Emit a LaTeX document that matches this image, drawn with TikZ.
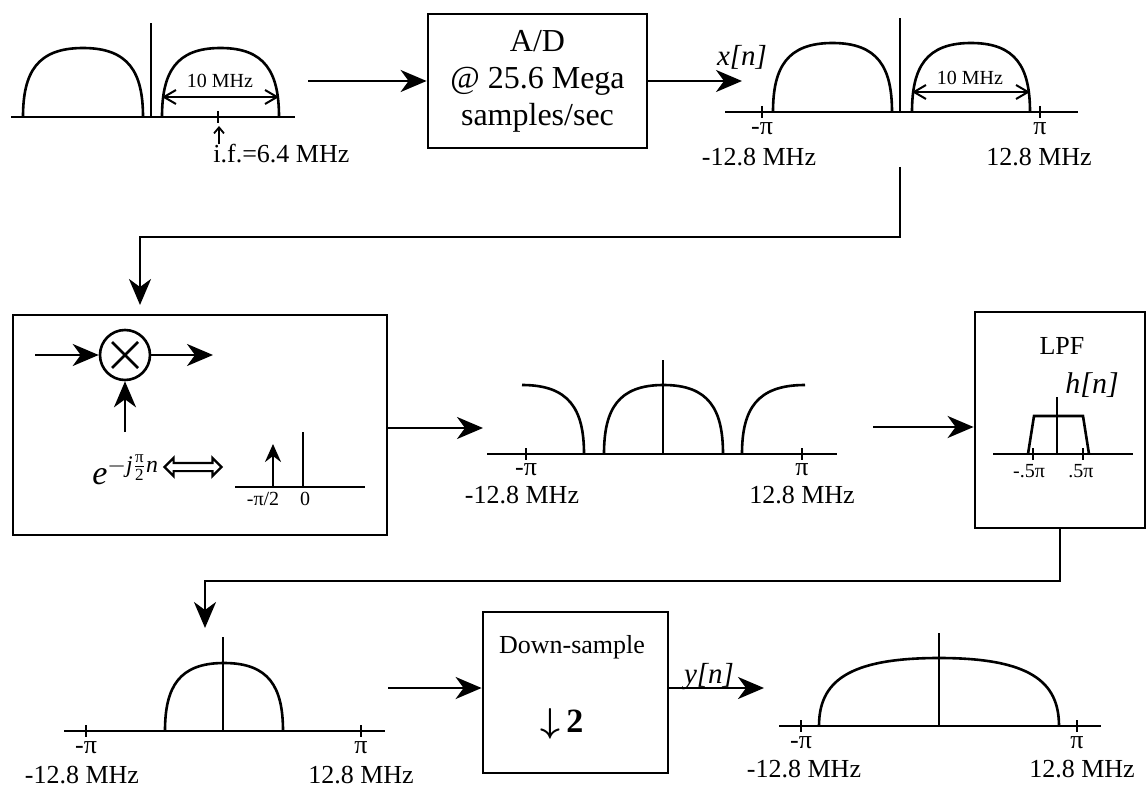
\documentclass[tikz,border=0pt]{standalone}
\usepackage{amsmath}
\usepackage{fontspec}
\setmainfont{Liberation Serif}
\usetikzlibrary{arrows.meta,shapes.arrows}
\tikzset{
  box/.style={draw,line width=1.4pt,inner sep=0pt,align=center},
  wire/.style={-{Stealth[length=13pt,width=11pt,inset=4pt]},line width=1.3pt},
  spec/.style={line width=1.3pt},
  dimline/.style={{Straight Barb[length=6pt,width=7pt]}-{Straight Barb[length=6pt,width=7pt]},line width=1pt},
  lbl/.style={inner sep=0pt,anchor=base,font=\fontsize{13}{15}\selectfont},
  smalllbl/.style={inner sep=0pt,anchor=base,font=\fontsize{10}{12}\selectfont},
  sig/.style={inner sep=0pt,font=\fontsize{14.5}{16}\selectfont\itshape}
}
% one band of a spectrum: left x, right x, axis y, top y
\newcommand\lobe[4]{%
  \draw[spec] (#1,#3) .. controls (#1,{#4+0.35*(#3-#4)}) and ({#1+0.12*(#2-#1)},#4) .. ({(#1+#2)/2},#4)
    .. controls ({#2-0.12*(#2-#1)},#4) and (#2,{#4+0.35*(#3-#4)}) .. (#2,#3);}

\begin{document}
\begin{tikzpicture}[x=0.5pt,y=-0.5pt]
  \useasboundingbox (0,0) rectangle (1146,786);

  % Input spectrum around the i.f.
  \draw[spec] (11,117) -- (295,117);
  \draw[spec] (151,117) -- (151,23);
  \lobe{23}{143}{117}{48}
  \lobe{162}{279}{117}{48}
  \draw[dimline] (162,97) -- (279,97);
  \node[smalllbl] (bw1) at (220,88) {10 MHz};
  \draw[spec] (218,111) -- (218,123);
  \node[lbl,anchor=base west] (if) at (213,163) {i.f.=6.4 MHz};
  \coordinate (iftip) at (219,126);
  \draw[-{Straight Barb[length=3pt,width=5pt]},line width=0.9pt] (if.north west -| iftip) -- (iftip);

  % A/D converter
  \coordinate (adin) at (308,81);
  \node[box,minimum width=109.5pt,minimum height=67pt,font=\fontsize{16}{18.5}\selectfont]
    (ad) at (537.5,81) {A/D\\@ 25.6 Mega\\samples/sec};
  \coordinate (xout) at (742,81);
  \draw[wire] (adin) -- (ad);
  \draw[wire] (ad) -- (xout);
  \node[sig] (xn) at (742,57) {x[n]};

  % Sampled spectrum
  \draw[spec] (725,112) -- (1078,112);
  \draw[spec] (900,112) -- (900,18);
  \lobe{773}{892}{112}{43}
  \lobe{912}{1030}{112}{43}
  \draw[dimline] (912,92) -- (1030,92);
  \node[smalllbl] (bw2) at (970,85) {10 MHz};
  \draw[spec] (762,106) -- (762,118);
  \draw[spec] (1040,106) -- (1040,118);
  \node[lbl] (xpl) at (762,135) {-π};
  \node[lbl] (xpr) at (1040,135) {π};
  \node[lbl] (xfl) at (759,166) {-12.8 MHz};
  \node[lbl] (xfr) at (1039,166) {12.8 MHz};

  % Mixer block
  \node[box,minimum width=187pt,minimum height=110pt] (mix) at (200,425) {};
  \coordinate (tap) at (900,167);
  \coordinate (turn1) at (140,237);
  \coordinate (mixin) at (140,305);
  \draw[wire] (tap) |- (turn1) -- (mixin);
  \node[circle,draw,line width=1.3pt,minimum size=25pt,inner sep=0pt] (mul) at (125,355) {};
  \draw[spec] (mul.center) +(-13,-13) -- +(13,13) (mul.center) +(-13,13) -- +(13,-13);
  \coordinate (mixa) at (35,355);
  \coordinate (mixb) at (213,355);
  \coordinate (mixc) at (125,432);
  \draw[wire] (mixa) -- (mul);
  \draw[wire] (mul) -- (mixb);
  \draw[wire] (mixc) -- (mul);
  \node[inner sep=0pt,anchor=west,font=\fontsize{17}{19}\selectfont] (expo) at (92,470)
    {$\textit{e}^{-\textit{j}\frac{\text{π}}{\text{2}}\textit{n}}$};
  \node[double arrow,draw,line width=1.1pt,minimum height=28.5pt,minimum width=4pt,
    double arrow head extend=2.5pt,double arrow head indent=0pt,inner sep=0pt,
    text height=3pt,text depth=0pt] (dual) at (193,467) {};
  \draw[spec] (235,487) -- (365,487);
  \coordinate (tone) at (273,487);
  \coordinate (tonetop) at (273,444);
  \draw[-{Stealth[length=9pt,width=8pt,inset=3pt]},line width=1.3pt] (tone) -- (tonetop);
  \draw[spec] (303,487) -- (303,432);
  \node[smalllbl] (tl) at (263,505) {-π/2};
  \node[smalllbl] (tz) at (305,505) {0};

  % Shifted spectrum
  \coordinate (m1) at (483,428);
  \draw[wire] (mix.east |- m1) -- (m1);
  \draw[spec] (487,454) -- (837,454);
  \draw[spec] (663,454) -- (663,360);
  \lobe{604}{723}{454}{385}
  \draw[spec] (522,385) .. controls (569,385) and (584,409) .. (584,454);
  \draw[spec] (742,454) .. controls (742,409) and (757,385) .. (805,385);
  \draw[spec] (526,448) -- (526,460);
  \draw[spec] (802,448) -- (802,460);
  \node[lbl] (spl) at (526,475) {-π};
  \node[lbl] (spr) at (802,475) {π};
  \node[lbl] (sfl) at (522,503) {-12.8 MHz};
  \node[lbl] (sfr) at (802,503) {12.8 MHz};

  % Low-pass filter
  \node[box,minimum width=85pt,minimum height=108pt] (lpf) at (1060,420) {};
  \coordinate (m2) at (873,427);
  \draw[wire] (m2) -- (m2 -| lpf.west);
  \node[lbl] (lpft) at (1062,355) {LPF};
  \node[sig,font=\fontsize{15}{17}\selectfont\itshape] (hn) at (1092,385) {h[n]};
  \draw[spec] (993,454) -- (1133,454);
  \draw[spec] (1057,454) -- (1057,397);
  \draw[spec] (1028,454) -- (1034,416) -- (1083,416) -- (1089,454);
  \draw[spec] (1033,448) -- (1033,460);
  \draw[spec] (1083,448) -- (1083,460);
  \node[smalllbl] (hl) at (1029,477) {-.5π};
  \node[smalllbl] (hr) at (1081,477) {.5π};

  % Filtered spectrum
  \coordinate (turn2) at (205,581);
  \coordinate (bin) at (205,628);
  \draw[wire] (lpf.south) |- (turn2) -- (bin);
  \draw[spec] (64,731) -- (385,731);
  \draw[spec] (223,731) -- (223,637);
  \lobe{165}{283}{731}{663}
  \draw[spec] (86,725) -- (86,737);
  \draw[spec] (361,725) -- (361,737);
  \node[lbl] (fpl) at (86,753) {-π};
  \node[lbl] (fpr) at (361,753) {π};
  \node[lbl] (ffl) at (82,783) {-12.8 MHz};
  \node[lbl] (ffr) at (361,783) {12.8 MHz};

  % Down-sampler
  \node[box,minimum width=92.5pt,minimum height=80.5pt] (ds) at (575.5,692.5) {};
  \coordinate (b1) at (388,688);
  \draw[wire] (b1) -- (b1 -| ds.west);
  \node[lbl] (dst) at (572,653) {Down-sample};
  \node[lbl,font=\fontsize{17}{19}\selectfont] (dsf) at (562,732) {$\boldsymbol{\downarrow}$\,\textbf{2}};
  \coordinate (yout) at (764,688);
  \draw[wire] (yout -| ds.east) -- (yout);
  \node[sig] (yn) at (709,677) {y[n]};

  % Output spectrum
  \draw[spec] (779,726) -- (1101,726);
  \draw[spec] (939,726) -- (939,633);
  \lobe{819}{1059}{726}{658}
  \draw[spec] (801,720) -- (801,732);
  \draw[spec] (1077,720) -- (1077,732);
  \node[lbl] (ypl) at (801,748) {-π};
  \node[lbl] (ypr) at (1077,748) {π};
  \node[lbl] (yfl) at (804,777) {-12.8 MHz};
  \node[lbl] (yfr) at (1082,777) {12.8 MHz};
\end{tikzpicture}
\end{document}
